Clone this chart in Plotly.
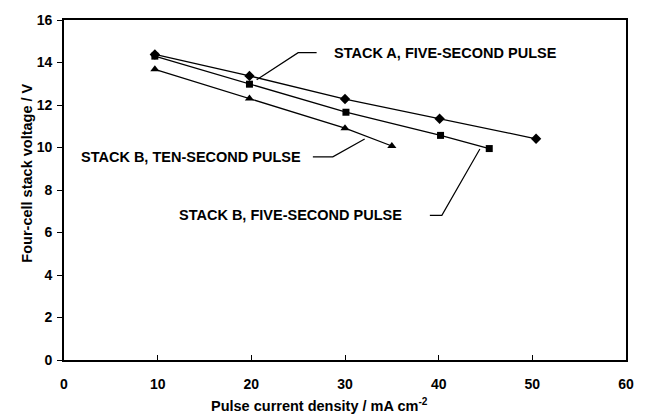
import plotly.graph_objects as go

# Data
stack_a_5s_x = [9.7, 19.8, 30.0, 40.1, 50.4]
stack_a_5s_y = [14.38, 13.37, 12.28, 11.35, 10.41]
stack_b_5s_x = [9.7, 19.8, 30.1, 40.2, 45.4]
stack_b_5s_y = [14.30, 12.98, 11.66, 10.57, 9.95]
stack_b_10s_x = [9.7, 19.8, 30.0, 35.0]
stack_b_10s_y = [13.68, 12.31, 10.91, 10.07]

x_ticks = [0, 10, 20, 30, 40, 50, 60]
y_ticks = [0, 2, 4, 6, 8, 10, 12, 14, 16]

FONT = "Liberation Sans, Arial, sans-serif"

def bold(size):
    return dict(family=FONT, size=size, color="black", weight="bold")

fig = go.Figure()
line = dict(color="black", width=1.3)
fig.add_trace(go.Scatter(x=stack_a_5s_x, y=stack_a_5s_y, mode="lines+markers",
                         line=line, marker=dict(symbol="diamond", size=8, color="black"),
                         showlegend=False))
fig.add_trace(go.Scatter(x=stack_b_5s_x, y=stack_b_5s_y, mode="lines+markers",
                         line=line, marker=dict(symbol="square", size=7, color="black"),
                         showlegend=False))
fig.add_trace(go.Scatter(x=stack_b_10s_x, y=stack_b_10s_y, mode="lines+markers",
                         line=line, marker=dict(symbol="triangle-up", size=8, color="black"),
                         showlegend=False))

# Leader lines
leaders = [
    ([26.97, 25.0, 20.57], [14.46, 14.46, 13.19]),
    ([26.57, 28.7, 32.1], [9.56, 9.56, 10.4]),
    ([39.06, 40.34, 44.4], [6.81, 6.81, 9.93]),
]
for lx, ly in leaders:
    fig.add_trace(go.Scatter(x=lx, y=ly, mode="lines", line=dict(color="black", width=1.2),
                             showlegend=False, hoverinfo="skip"))

labels = [
    ("STACK A, FIVE-SECOND PULSE", 28.57, 14.44, "left"),
    ("STACK B, TEN-SECOND PULSE", 25.5, 9.56, "right"),
    ("STACK B, FIVE-SECOND PULSE", 12.06, 6.81, "left"),
]
for txt, ax, ay, anc in labels:
    fig.add_annotation(x=ax, y=ay, text=txt, showarrow=False, xanchor=anc, yanchor="middle",
                       font=bold(14.5))

# Axis titles
fig.add_annotation(x=27.3, xref="x", y=0, yref="paper", yshift=-45, yanchor="middle",
                   text="Pulse current density / mA cm<sup>-2</sup>", showarrow=False,
                   font=bold(14.5))
fig.add_annotation(x=0, xref="paper", xshift=-37, y=8.77, yref="y", xanchor="center",
                   yanchor="middle", textangle=-90, text="Four-cell stack voltage / V",
                   showarrow=False, font=bold(14.5))

fig.update_xaxes(range=[0, 60], tickvals=x_ticks, ticks="inside", ticklen=5, tickcolor="black",
                 showgrid=False, zeroline=False, showline=True, linecolor="black", linewidth=1.5,
                 mirror=True, tickfont=bold(14), ticklabelstandoff=10)
fig.update_yaxes(range=[0, 16], tickvals=y_ticks, ticks="outside", ticklen=5, tickcolor="black",
                 showgrid=False, zeroline=False, showline=True, linecolor="black", linewidth=1.8,
                 mirror=True, tickfont=bold(14), ticklabelstandoff=2)

fig.update_layout(width=647, height=414, margin=dict(l=64, r=21, t=17, b=54),
                  plot_bgcolor="white", paper_bgcolor="white")

fig.write_html("out.html")
